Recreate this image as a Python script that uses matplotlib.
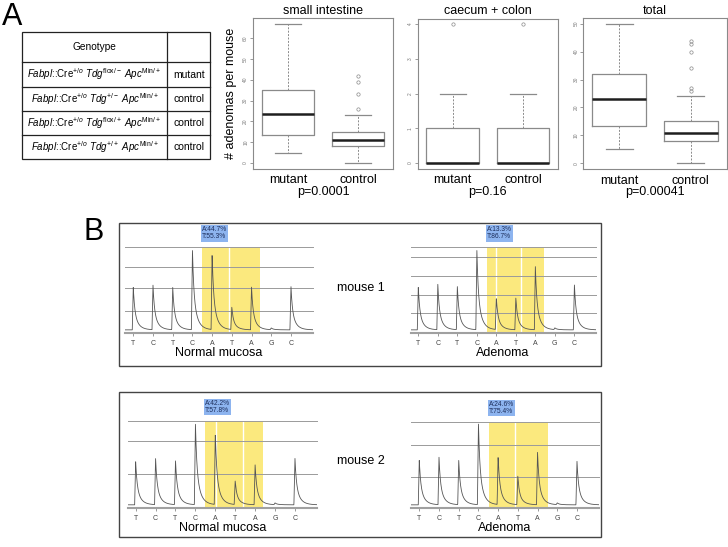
import numpy as np
import matplotlib
matplotlib.use('Agg')
import matplotlib.pyplot as plt
from matplotlib.patches import Rectangle

plt.rcParams['font.family'] = ['Liberation Sans', 'DejaVu Sans']
plt.rcParams['mathtext.fontset'] = 'custom'
plt.rcParams['mathtext.rm'] = 'Liberation Sans'
plt.rcParams['mathtext.it'] = 'Liberation Sans:italic'
plt.rcParams['mathtext.bf'] = 'Liberation Sans:bold'

W, H = 728, 547

# ---- panel A: genotype table
genotypes = [
    r"$\it{Fabpl}$::Cre$^{+/o}$ $\it{Tdg}^{\mathrm{flox/-}}$ $\it{Apc}^{\mathrm{Min/+}}$",
    r"$\it{Fabpl}$::Cre$^{+/o}$ $\it{Tdg}^{+/-}$ $\it{Apc}^{\mathrm{Min/+}}$",
    r"$\it{Fabpl}$::Cre$^{+/o}$ $\it{Tdg}^{\mathrm{flox/+}}$ $\it{Apc}^{\mathrm{Min/+}}$",
    r"$\it{Fabpl}$::Cre$^{+/o}$ $\it{Tdg}^{+/+}$ $\it{Apc}^{\mathrm{Min/+}}$",
]
groups = ['mutant', 'control', 'control', 'control']

# ---- panel A: boxplots (whislo, q1, median, q3, whishi)
box_titles = ['small intestine', 'caecum + colon', 'total']
box_groups = ['mutant', 'control']
p_values = ['p=0.0001', 'p=0.16', 'p=0.00041']
si_mutant = [5, 13.5, 23.5, 35, 67]
si_mutant_out = []
si_control = [0, 8, 11, 15, 23]
si_control_out = [26, 33, 39, 42]
cc_mutant = [0, 0, 0, 1, 2]
cc_mutant_out = [4]
cc_control = [0, 0, 0, 1, 2]
cc_control_out = [4]
tot_mutant = [5, 13.5, 23, 32, 50]
tot_mutant_out = []
tot_control = [0, 8, 11, 15, 24]
tot_control_out = [26, 27, 34, 40, 42.6, 43.6]
y_ticks = [[0, 10, 20, 30, 40, 50, 60], [0, 1, 2, 3, 4], [0, 10, 20, 30, 40, 50]]

# ---- panel B: sequencing traces (peak apex heights, fraction of top grid line)
bases = ['T', 'C', 'T', 'C', 'A', 'T', 'A', 'G', 'C']
normal1 = [0.54, 0.56, 0.54, 0.99, 0.93, 0.30, 0.54, 0.06, 0.56]
adenoma1 = [0.54, 0.57, 0.55, 0.99, 0.41, 0.41, 0.78, 0.06, 0.58]
normal2 = [0.54, 0.57, 0.55, 0.99, 0.86, 0.31, 0.50, 0.06, 0.59]
adenoma2 = [0.56, 0.59, 0.56, 1.00, 0.60, 0.37, 0.65, 0.06, 0.56]
ratios = ['A:44.7%\nT:55.3%', 'A:13.3%\nT:86.7%', 'A:42.2%\nT:57.8%', 'A:24.6%\nT:75.4%']
trace_names = ['Normal mucosa', 'Adenoma', 'Normal mucosa', 'Adenoma']
grids = [[0.26, 0.523, 0.775, 1.0], [0.233, 0.446, 0.667, 0.884, 1.0],
         [0.393, 0.767, 1.0], [0.358, 0.731, 1.0]]
yellow = [(3.47, 6.43), (3.51, 6.45), (3.48, 6.40), (3.54, 6.52)]
white_lines = [[4.86], [3.96, 5.29], [4.02, 5.38], [4.86]]


def rect(left, top, right, bottom):
    return [left / W, 1 - bottom / H, (right - left) / W, (bottom - top) / H]


fig = plt.figure(figsize=(W / 100, H / 100), dpi=100)
bg = fig.add_axes([0, 0, 1, 1])
bg.set_xlim(0, W)
bg.set_ylim(H, 0)
bg.axis('off')
bg.patch.set_alpha(0)

bg.text(2, 25, 'A', fontsize=22, va='baseline')
bg.text(83, 240, 'B', fontsize=22, va='baseline')

# table
tl, tr, tc = 22, 210, 167.3
rows_y = [32.3, 62.3, 86.7, 110.7, 135, 159.3]
bg.add_patch(Rectangle((tl, rows_y[0]), tr - tl, rows_y[-1] - rows_y[0],
                       fill=False, lw=0.9, ec='#222'))
for y in rows_y[1:-1]:
    bg.plot([tl, tr], [y, y], color='#222', lw=0.9)
bg.plot([tc, tc], [rows_y[0], rows_y[-1]], color='#222', lw=0.9)
bg.text((tl + tc) / 2, (rows_y[0] + rows_y[1]) / 2, 'Genotype', fontsize=7.3,
        ha='center', va='center')
for i, (g, grp) in enumerate(zip(genotypes, groups)):
    yc = (rows_y[i + 1] + rows_y[i + 2]) / 2
    bg.text((tl + tc) / 2, yc, g, fontsize=7.0, ha='center', va='center')
    bg.text((tc + tr) / 2, yc, grp, fontsize=7.5, ha='center', va='center')

# boxplots
box_data = [
    [(si_mutant, si_mutant_out), (si_control, si_control_out)],
    [(cc_mutant, cc_mutant_out), (cc_control, cc_control_out)],
    [(tot_mutant, tot_mutant_out), (tot_control, tot_control_out)],
]
box_rects = [(253, 18, 393, 168.5), (417.7, 18.5, 558, 168.5), (583.3, 18, 726.7, 169)]
grey = '#8a8a8a'
for k in range(3):
    ax = fig.add_axes(rect(*box_rects[k]))
    stats = []
    lo, hi = [], []
    for vals, out in box_data[k]:
        stats.append(dict(whislo=vals[0], q1=vals[1], med=vals[2], q3=vals[3],
                          whishi=vals[4], fliers=out))
        lo.append(min([vals[0]] + out))
        hi.append(max([vals[4]] + out))
    ax.bxp(stats, positions=[1, 2], widths=0.75,
           boxprops=dict(color=grey, lw=0.9),
           medianprops=dict(color='#1e1e1e', lw=1.8),
           whiskerprops=dict(color=grey, lw=0.7, ls=(0, (2, 1.5))),
           capprops=dict(color=grey, lw=0.9),
           flierprops=dict(marker='o', mfc='none', mec=grey, ms=2.4, mew=0.5))
    pad = 0.04 * (max(hi) - min(lo))
    ax.set_ylim(min(lo) - pad, max(hi) + pad)
    ax.set_xlim(0.5, 2.5)
    ax.set_yticks(y_ticks[k])
    ax.set_yticklabels([str(t) for t in y_ticks[k]], rotation=90, va='center')
    ax.tick_params(axis='y', length=2.5, width=0.6, color=grey, labelsize=3.5,
                   labelcolor='#777', pad=1)
    ax.set_xticks([1, 2])
    ax.set_xticklabels(box_groups, fontsize=9)
    ax.tick_params(axis='x', length=0, pad=4)
    for s in ax.spines.values():
        s.set_color(grey)
        s.set_linewidth(0.8)
    ax.set_title(box_titles[k], fontsize=9, pad=3)
    xc = (box_rects[k][0] + box_rects[k][2]) / 2
    bg.text(xc, 192, p_values[k], fontsize=9, ha='center', va='center')

bg.text(231, 93, '# adenomas per mouse', fontsize=9, rotation=90, ha='center', va='center')

# panel B frames
bg.add_patch(Rectangle((119.3, 223.3), 481.2, 142.4, fill=False, lw=1.0, ec='#444'))
bg.add_patch(Rectangle((119.3, 392), 481.2, 144.7, fill=False, lw=1.0, ec='#444'))
bg.text(361, 288, 'mouse 1', fontsize=9, ha='center', va='center')
bg.text(361, 461, 'mouse 2', fontsize=9, ha='center', va='center')

traces = [normal1, adenoma1, normal2, adenoma2]
trace_rects = [(125.4, 247.3, 312.6, 333.3), (410.5, 247.3, 595.8, 333.3),
               (127.7, 421, 316.8, 508.3), (411.4, 421.7, 598.6, 508.3)]
xs = np.linspace(-0.4, 9.1, 1500)
base_level = 0.04
for k in range(4):
    ax = fig.add_axes(rect(*trace_rects[k]))
    ax.set_xlim(-0.4, 9.1)
    ax.set_ylim(0, 1)
    ax.axvspan(*yellow[k], color='#fbe97e', lw=0, zorder=0)
    for w in white_lines[k]:
        ax.axvline(w, color='white', lw=1.0, zorder=1)
    for g in grids[k]:
        ax.axhline(g, color='#9a9a9a', lw=0.7, zorder=2, clip_on=False)
    ys = np.full_like(xs, base_level)
    for i, apex in enumerate(traces[k]):
        h = apex - base_level
        d = xs - i
        rise = (d > -0.05) & (d < 0)
        ys[rise] += h * (d[rise] + 0.05) / 0.05
        fall = d >= 0
        ys[fall] += h * (0.55 * np.exp(-d[fall] / 0.07) + 0.45 * np.exp(-d[fall] / 0.22))
    ax.plot(xs, ys, color='#555555', lw=0.6, zorder=3)
    ax.set_xticks(range(len(bases)))
    ax.set_xticklabels(bases)
    ax.tick_params(axis='x', length=2.5, width=0.6, color='#888', labelsize=5,
                   labelcolor='#444', pad=2)
    ax.set_yticks([])
    for s in ['top', 'left', 'right']:
        ax.spines[s].set_visible(False)
    ax.spines['bottom'].set_color('#a0a0a0')
    ax.spines['bottom'].set_linewidth(1.5)
    ax.patch.set_alpha(0)
    ax.set_xlabel(trace_names[k], fontsize=9, labelpad=0)
    ax.text(yellow[k][0], 1.08, ratios[k], fontsize=4.8, color='#1c2d5a',
            ha='left', va='bottom', linespacing=1.0, clip_on=False,
            bbox=dict(facecolor='#8db4ef', edgecolor='none', pad=0.8))

fig.savefig('out.png', dpi=100)
